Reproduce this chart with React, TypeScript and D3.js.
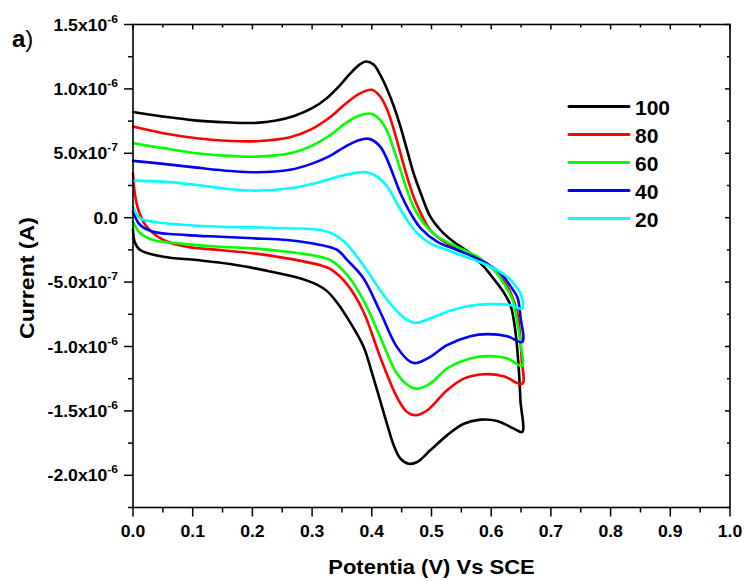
import React from "react";
import * as d3 from "d3";

// ---- data (potential in V, current in µA) ----
const seriesNames = ["100", "80", "60", "40", "20"];
const seriesColors = ["#000000", "#ff0000", "#00ff00", "#0000ff", "#00ffff"];

const cv100: [number, number][] = [
  [0, 0.82], [0.051, 0.785], [0.107, 0.754], [0.163, 0.739], [0.207, 0.736], [0.24, 0.755],
  [0.27, 0.79], [0.3, 0.85], [0.325, 0.93], [0.347, 1.03], [0.364, 1.12], [0.38, 1.19],
  [0.39, 1.213], [0.403, 1.19], [0.414, 1.11], [0.426, 0.993], [0.437, 0.863], [0.448, 0.708],
  [0.459, 0.526], [0.47, 0.345], [0.482, 0.19], [0.498, 0.008], [0.515, -0.096], [0.537, -0.187],
  [0.565, -0.277], [0.588, -0.381], [0.605, -0.48], [0.621, -0.58], [0.633, -0.69], [0.641, -0.9],
  [0.646, -1.16], [0.649, -1.42], [0.652, -1.664],
  [0.638, -1.638], [0.61, -1.578], [0.582, -1.568], [0.554, -1.6], [0.526, -1.69], [0.498, -1.806],
  [0.476, -1.897], [0.462, -1.91], [0.448, -1.87], [0.437, -1.77], [0.426, -1.61], [0.414, -1.42],
  [0.4, -1.2], [0.386, -1.0], [0.358, -0.77], [0.342, -0.66], [0.325, -0.57], [0.308, -0.52],
  [0.275, -0.465], [0.219, -0.407], [0.163, -0.36], [0.107, -0.329], [0.051, -0.303], [0.012, -0.251],
  [0.003, -0.19], [0, -0.09],
];

const cv80: [number, number][] = [
  [0, 0.708], [0.051, 0.656], [0.107, 0.617], [0.163, 0.596], [0.207, 0.594], [0.263, 0.625],
  [0.3, 0.69], [0.33, 0.78], [0.355, 0.88], [0.378, 0.96], [0.4, 0.993], [0.414, 0.941],
  [0.426, 0.837], [0.437, 0.682], [0.448, 0.5], [0.459, 0.319], [0.47, 0.163], [0.482, 0.034],
  [0.498, -0.096], [0.526, -0.199], [0.565, -0.277], [0.593, -0.355], [0.616, -0.459], [0.633, -0.588],
  [0.644, -0.744], [0.648, -0.9], [0.651, -1.1], [0.652, -1.29],
  [0.621, -1.231], [0.588, -1.215], [0.554, -1.249], [0.526, -1.34], [0.493, -1.495], [0.473, -1.534],
  [0.459, -1.509], [0.442, -1.392], [0.414, -1.081], [0.386, -0.73], [0.359, -0.52], [0.331, -0.4],
  [0.314, -0.37], [0.258, -0.316], [0.202, -0.277], [0.146, -0.251], [0.09, -0.226], [0.051, -0.173],
  [0.023, -0.07], [0.009, 0.06], [0.003, 0.19], [0, 0.345],
];

const cv60: [number, number][] = [
  [0, 0.579], [0.051, 0.54], [0.107, 0.501], [0.163, 0.48], [0.207, 0.474], [0.263, 0.5],
  [0.3, 0.56], [0.33, 0.64], [0.355, 0.73], [0.38, 0.795], [0.4, 0.806], [0.414, 0.76],
  [0.426, 0.669], [0.437, 0.526], [0.448, 0.371], [0.459, 0.215], [0.47, 0.086], [0.487, -0.044],
  [0.51, -0.148], [0.543, -0.226], [0.577, -0.303], [0.605, -0.407], [0.621, -0.51], [0.636, -0.64],
  [0.644, -0.821], [0.65, -1.0], [0.652, -1.15],
  [0.627, -1.093], [0.599, -1.075], [0.565, -1.093], [0.526, -1.171], [0.498, -1.288], [0.476, -1.327],
  [0.465, -1.314], [0.442, -1.21], [0.414, -0.925], [0.386, -0.64], [0.359, -0.446], [0.331, -0.33],
  [0.314, -0.303], [0.258, -0.264], [0.202, -0.238], [0.146, -0.226], [0.09, -0.205], [0.034, -0.173],
  [0.012, -0.121], [0, -0.03],
];

const cv40: [number, number][] = [
  [0, 0.441], [0.051, 0.418], [0.107, 0.389], [0.163, 0.363], [0.207, 0.353], [0.263, 0.372],
  [0.3, 0.42], [0.33, 0.48], [0.355, 0.55], [0.378, 0.602], [0.396, 0.612], [0.414, 0.552],
  [0.426, 0.449], [0.437, 0.319], [0.448, 0.19], [0.465, 0.034], [0.482, -0.082], [0.51, -0.187],
  [0.543, -0.251], [0.582, -0.329], [0.616, -0.432], [0.633, -0.537], [0.644, -0.62], [0.649, -0.77],
  [0.652, -0.965],
  [0.627, -0.92], [0.593, -0.904], [0.565, -0.92], [0.526, -0.99], [0.498, -1.081], [0.475, -1.128],
  [0.465, -1.12], [0.442, -1.003], [0.414, -0.73], [0.386, -0.47], [0.359, -0.33], [0.342, -0.25],
  [0.314, -0.212], [0.258, -0.173], [0.202, -0.16], [0.146, -0.148], [0.09, -0.135], [0.034, -0.109],
  [0.012, -0.057], [0, 0.047],
];

const cv20: [number, number][] = [
  [0, 0.288], [0.051, 0.28], [0.107, 0.254], [0.163, 0.221], [0.207, 0.21], [0.263, 0.228],
  [0.3, 0.262], [0.33, 0.3], [0.36, 0.338], [0.391, 0.353], [0.409, 0.319], [0.426, 0.241],
  [0.442, 0.112], [0.459, -0.018], [0.476, -0.121], [0.498, -0.199], [0.526, -0.251], [0.565, -0.316],
  [0.599, -0.381], [0.627, -0.459], [0.644, -0.549], [0.65, -0.6], [0.652, -0.705],
  [0.633, -0.679], [0.599, -0.671], [0.565, -0.684], [0.526, -0.731], [0.498, -0.782], [0.473, -0.816],
  [0.455, -0.78], [0.435, -0.69], [0.415, -0.57], [0.395, -0.43], [0.375, -0.3], [0.355, -0.19],
  [0.335, -0.125], [0.314, -0.096], [0.258, -0.082], [0.202, -0.075], [0.146, -0.07], [0.09, -0.057],
  [0.034, -0.031], [0.012, -0.005], [0, 0.086],
];

const allSeries = [cv100, cv80, cv60, cv40, cv20];

const xTickValues = [0, 0.1, 0.2, 0.3, 0.4, 0.5, 0.6, 0.7, 0.8, 0.9, 1.0];
const xTickLabels = ["0.0", "0.1", "0.2", "0.3", "0.4", "0.5", "0.6", "0.7", "0.8", "0.9", "1.0"];
const yTickValues = [-2.0e-6, -1.5e-6, -1.0e-6, -5.0e-7, 0, 5.0e-7, 1.0e-6, 1.5e-6];
const yTickMantissas = ["-2.0", "-1.5", "-1.0", "-5.0", "0.0", "5.0", "1.0", "1.5"];
const yTickExponents = ["-6", "-6", "-6", "-7", "", "-7", "-6", "-6"];

const W = 745;
const H = 581;
const L = 133, R = 730, T = 24.5, B = 507.5;
const FONT = "Arial, 'Liberation Sans', Helvetica, sans-serif";

export default function App() {
  const x = d3.scaleLinear().domain([0, 1]).range([L, R]);
  const y = d3.scaleLinear().domain([-2.25e-6, 1.5e-6]).range([B, T]);
  const line = d3
    .line<[number, number]>()
    .x((d) => x(d[0]))
    .y((d) => y(d[1] * 1e-6))
    .curve(d3.curveCatmullRom.alpha(0.5));

  const xMinor = d3.range(0, 1.0001, 0.05);
  const yMinor = d3.range(-2.25e-6, 1.5001e-6, 0.25e-6);

  return (
    <svg width={W} height={H} style={{ position: "absolute", left: 0, top: 0, background: "#fff" }}>
      <rect x={0} y={0} width={W} height={H} fill="#fff" />
      {/* curves */}
      <g fill="none" strokeWidth={2.6} strokeLinejoin="round" strokeLinecap="round">
        {allSeries.map((s, i) => (
          <path key={i} d={line(s) || ""} stroke={seriesColors[i]} />
        ))}
      </g>
      {/* frame */}
      <rect x={L} y={T} width={R - L} height={B - T} fill="none" stroke="#000" strokeWidth={1.6} />
      {/* ticks */}
      <g stroke="#000" strokeWidth={1.5}>
        {xMinor.map((v, i) => {
          const major = i % 2 === 0;
          return (
            <g key={i}>
              <line x1={x(v)} x2={x(v)} y1={B} y2={B + (major ? 9 : 5)} />
              <line x1={x(v)} x2={x(v)} y1={T} y2={T + (major ? 5 : 3)} />
            </g>
          );
        })}
        {yMinor.map((v, i) => {
          const major = i % 2 === 1;
          return (
            <g key={i}>
              <line x1={L} x2={L - (major ? 9 : 5)} y1={y(v)} y2={y(v)} />
              <line x1={R} x2={R - (major ? 5 : 3)} y1={y(v)} y2={y(v)} />
            </g>
          );
        })}
      </g>
      {/* tick labels */}
      <g fontFamily={FONT} fontWeight="bold" fontSize={16} fill="#000">
        {xTickValues.map((v, i) => (
          <text key={i} transform={`translate(${x(v)},${536.5}) scale(1.1,1)`} textAnchor="middle">
            {xTickLabels[i]}
          </text>
        ))}
        {yTickValues.map((v, i) => (
          <text key={i} transform={`translate(118,${y(v) + 6}) scale(1.1,1)`} textAnchor="end">
            {yTickMantissas[i]}
            {yTickExponents[i] ? "x10" : ""}
            {yTickExponents[i] ? (
              <tspan fontSize={11} dy={-8}>
                {yTickExponents[i]}
              </tspan>
            ) : null}
          </text>
        ))}
      </g>
      {/* axis titles */}
      <text
        transform={`translate(${(L + R) / 2},574) scale(1.1,1)`}
        textAnchor="middle"
        fontFamily={FONT}
        fontWeight="bold"
        fontSize={20}
      >
        Potentia (V) Vs SCE
      </text>
      <text
        transform={`translate(34,${(T + B) / 2 + 12}) rotate(-90) scale(1.1,1)`}
        textAnchor="middle"
        fontFamily={FONT}
        fontWeight="bold"
        fontSize={21}
      >
        Current (A)
      </text>
      {/* panel label */}
      <text x={12} y={47} fontFamily={FONT} fontSize={24}>
        <tspan fontWeight="bold">a</tspan>
        <tspan>)</tspan>
      </text>
      {/* legend */}
      <g>
        {seriesNames.map((n, i) => (
          <g key={n} transform={`translate(0,${106.5 + i * 28})`}>
            <line x1={569} x2={629} y1={0} y2={0} stroke={seriesColors[i]} strokeWidth={3} strokeLinecap="round" />
            <text x={635} y={8} fontFamily={FONT} fontWeight="bold" fontSize={21}>
              {n}
            </text>
          </g>
        ))}
      </g>
    </svg>
  );
}
